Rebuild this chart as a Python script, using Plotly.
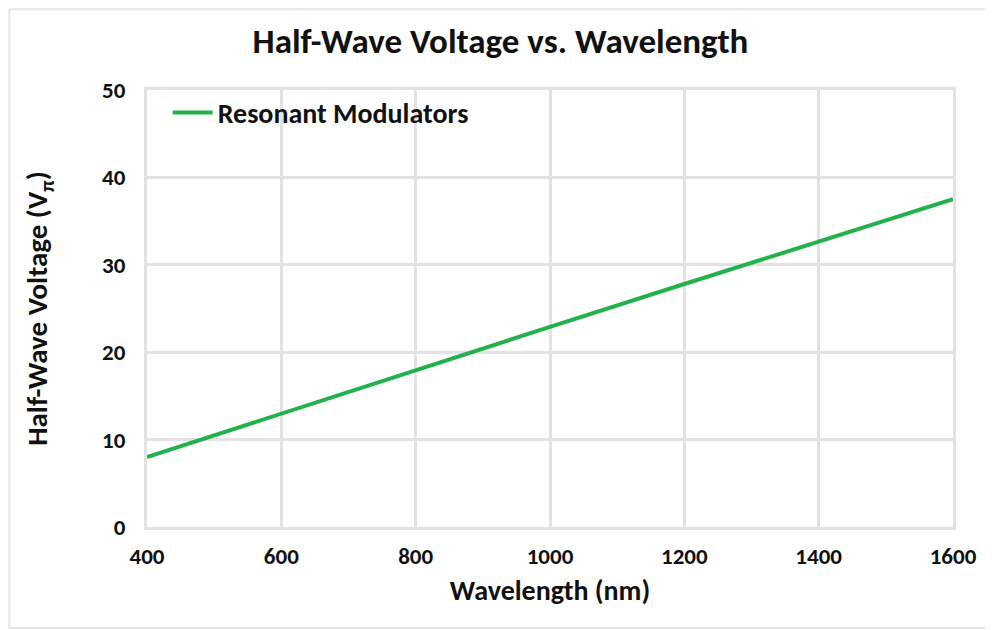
import plotly.graph_objects as go

wavelength_nm = [400, 600, 800, 1000, 1200, 1400, 1600]
half_wave_voltage = [8.0, 13.0, 17.9, 22.9, 27.8, 32.7, 37.5]
series_name = "Resonant Modulators"
x_ticks = [400, 600, 800, 1000, 1200, 1400, 1600]
y_ticks = [0, 10, 20, 30, 40, 50]

FONT = "Carlito, Open Sans, sans-serif"
GRID = "#e2e2e2"
BORDER = "#e6e6e6"

fig = go.Figure()
fig.add_trace(go.Scatter(
    x=wavelength_nm, y=half_wave_voltage, mode="lines", name=f"<b>{series_name}</b>",
    line=dict(color="#22b14c", width=4),
))

# faint frame on the left, top and bottom edges of the image
for x0, y0, x1, y1 in [(-0.171, -0.2311, -0.171, 1.185),
                       (-0.171, 1.185, 1.06, 1.185),
                       (-0.171, -0.2311, 1.06, -0.2311)]:
    fig.add_shape(type="line", xref="paper", yref="paper", x0=x0, y0=y0, x1=x1, y1=y1,
                  line=dict(color=BORDER, width=2), layer="below")

fig.update_layout(
    width=985, height=622,
    paper_bgcolor="white", plot_bgcolor="white",
    margin=dict(l=139, r=40, t=82, b=103),
    title=dict(text="<b>Half-Wave Voltage vs. Wavelength</b>", x=0.5, xanchor="center",
               y=0.947, yanchor="middle", font=dict(family=FONT, size=35, color="#111")),
    font=dict(family=FONT, color="#111"),
    showlegend=True,
    legend=dict(x=0.0257, y=1.005, xanchor="left", yanchor="top", bgcolor="rgba(0,0,0,0)",
                font=dict(family=FONT, size=28, color="#111"), itemwidth=40),
    xaxis=dict(range=[400, 1600], tickvals=x_ticks, ticktext=[f"<b>{v}</b>" for v in x_ticks],
               showgrid=True, gridcolor=GRID, gridwidth=3, zeroline=False, automargin=False,
               showline=True, linecolor=GRID, linewidth=3, mirror=True,
               tickfont=dict(size=23), ticks="outside", ticklen=6, tickcolor="rgba(0,0,0,0)",
               title=dict(text="<b>Wavelength (nm)</b>", font=dict(size=28), standoff=12)),
    yaxis=dict(range=[0, 50], tickvals=y_ticks, ticktext=[f"<b>{v}</b>" for v in y_ticks],
               showgrid=True, gridcolor=GRID, gridwidth=3, zeroline=False, automargin=False,
               showline=True, linecolor=GRID, linewidth=3, mirror=True,
               tickfont=dict(size=23), ticks="outside", ticklen=14, tickcolor="rgba(0,0,0,0)",
               title=dict(text="<b>Half-Wave Voltage (V<sub>π</sub>)</b>", font=dict(size=29), standoff=46)),
)

fig.write_html("out.html")
